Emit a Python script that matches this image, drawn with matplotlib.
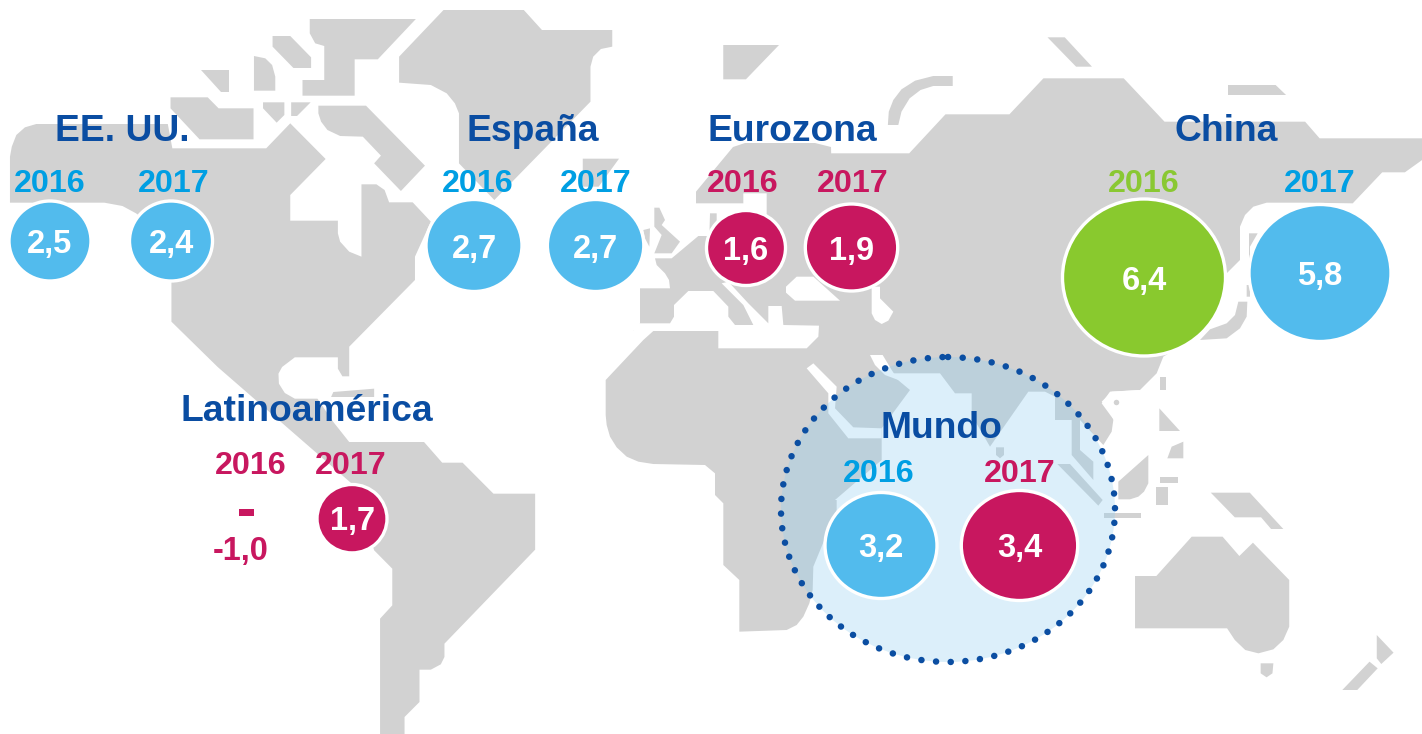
import matplotlib
matplotlib.use("Agg")
import matplotlib.pyplot as plt
from matplotlib.patches import Polygon, Ellipse, Rectangle

plt.rcParams['font.family'] = ['Liberation Sans', 'DejaVu Sans']

# ---- data ----
regions = ["EE. UU.", "España", "Eurozona", "China", "Latinoamérica", "Mundo"]
year_labels = ["2016", "2017"]
values_2016 = [2.5, 2.7, 1.6, 6.4, -1.0, 3.2]
values_2017 = [2.4, 2.7, 1.9, 5.8, 1.7, 3.4]

BLUE, MAG, GREEN = '#52bbed', '#c8175f', '#89c92e'
YBLUE, YGREEN = '#009fe3', '#8ac832'
HEAD = '#0a4da2'
GRAY = '#d2d2d2'
colors_2016 = [BLUE, BLUE, MAG, GREEN, None, BLUE]
colors_2017 = [BLUE, BLUE, MAG, BLUE, MAG, MAG]
ycolors_2016 = [YBLUE, YBLUE, MAG, YGREEN, MAG, YBLUE]
ycolors_2017 = [YBLUE, YBLUE, MAG, YBLUE, MAG, MAG]

# ---- layout (pixels) ----
head_pos = [(122, 141), (533, 141), (792, 141), (1226, 141), (307, 421), (941, 438)]
year16_pos = [(50, 192), (478, 192), (743, 192), (1144, 192), (250.6, 474), (878.5, 482)]
year17_pos = [(173.5, 192), (596, 192), (853, 192), (1320, 192), (351, 474), (1020, 482)]
# centre x, centre y, rx, ry, label baseline
bub16 = [(50, 241, 39.5, 38.5, 253), (474, 245.5, 46.5, 44.5, 258), (746, 248, 38, 36, 260),
         (1144, 277.5, 80, 77, 290), None, (881, 545.5, 54.5, 51.5, 557)]
bub17 = [(171, 241, 40, 38.5, 253), (595.6, 245.5, 46.7, 44.5, 258), (851.5, 247.5, 44.7, 42, 260),
         (1320, 273, 69.5, 67, 285), (352, 518.7, 33.5, 32.7, 530), (1019.5, 545.5, 56.7, 53.5, 557)]

# ---- map outline helpers (zoom-space to pixel-space) ----
def z1(p): return [(x / 2.205, y / 3) for x, y in p]
def z2(p): return [(711 + x / 2.205, y / 3) for x, y in p]
def z3(p): return [(x / 2.205, 367 + y / 3) for x, y in p]
def z4(p): return [(711 + x / 2.205, 340 + y / 3) for x, y in p]
def u5(p): return [(600 + x / 3, 170 + y / 3) for x, y in p]
def u6(p): return [(1050 + x / 3, 190 + y / 3) for x, y in p]
def u8(p): return [(590 + x / 3, 340 + y / 3) for x, y in p]
def u10(p): return [(1040 + x / 3, 360 + y / 3) for x, y in p]
def u11(p): return [(790 + x / 3, 350 + y / 3) for x, y in p]

america = (
    z1([(22, 608), (22, 470), (26, 440), (36, 405), (55, 382), (80, 372), (370, 372), (380, 445), (587, 445), (640, 370),
        (718, 477), (640, 585), (640, 662), (745, 662), (745, 700), (750, 725), (770, 755), (797, 770), (797, 553),
        (830, 553), (848, 570), (858, 607), (910, 607), (950, 665), (915, 770), (915, 840), (770, 1040), (770, 1101)])
    + z3([(770, 28), (755, 28), (745, 5)])
    + z1([(745, 1072), (650, 1072), (622, 1101)])
    + z3([(614, 20), (615, 50), (628, 78), (650, 95), (700, 95), (735, 165), (770, 225), (935, 225), (975, 287), (1020, 287),
          (1088, 380), (1180, 380), (1180, 548), (980, 830), (980, 870), (972, 892), (950, 908), (925, 908),
          (925, 1005), (892, 1050), (892, 1110), (838, 1110), (838, 755), (865, 715), (865, 605), (825, 550),
          (780, 355), (480, 0)])
    + z1([(378, 965), (378, 720), (300, 640), (270, 618), (230, 608)])
)

eurafrica = (
    u5([(120, 460), (120, 355), (210, 355), (207, 330), (195, 310), (170, 285), (165, 265), (215, 265), (295, 198), (328, 198),
        (330, 130), (350, 130), (350, 165), (495, 165), (500, 130), (500, 70), (430, 70), (430, 100), (288, 100), (288, 65)])
    + [(733, 147), (745, 143), (815, 143), (831, 147)]
    + z2([(265, 460), (437, 460), (517, 343), (658, 343), (733, 235), (910, 235), (1000, 365), (1310, 365),
          (1342, 415), (1568, 415), (1568, 480), (1530, 517), (1480, 517), (1415, 610)])
    + u6([(770, 38), (650, 38), (610, 50), (585, 75), (570, 110), (570, 210), (530, 250), (470, 420), (340, 500), (320, 550),
          (270, 600), (185, 605), (155, 635), (180, 660), (190, 690), (185, 725), (160, 765)])
    + u11([(870, 210), (870, 300), (910, 335), (910, 390), (845, 315), (845, 210), (795, 210), (795, 140), (765, 125),
           (715, 125), (600, 290), (545, 195), (545, 130), (495, 130), (450, 70), (300, 70), (360, 120), (275, 235),
           (275, 330), (135, 450)])
    + u8([(740, 480), (740, 510), (670, 680), (668, 750), (658, 790), (640, 830), (620, 855), (590, 870), (448, 875), (448, 720), (400, 675),
          (400, 490), (375, 465), (375, 400), (345, 375), (190, 372), (145, 365), (110, 350), (80, 322), (60, 290), (50, 255), (47, 225), (47, 120), (160, 0)])
    + u5([(160, 483), (100, 483)])
)

islands = [
    z1([(978, 30), (1155, 30), (1195, 90), (1350, 90), (1350, 140), (1325, 147), (1308, 170), (1302, 200), (1302, 305), (1090, 600),
        (1012, 490), (1012, 340), (1003, 310), (985, 280), (950, 255), (880, 248), (880, 170)]),
    z1([(683, 57), (917, 57), (833, 178), (782, 178), (782, 287), (667, 287), (667, 240), (715, 240), (715, 138), (695, 130), (683, 100)]),
    z1([(601, 108), (640, 108), (686, 172), (686, 204), (647, 204), (601, 140)]),
    z1([(560, 168), (585, 175), (600, 195), (607, 230), (607, 272), (560, 272)]),
    z1([(443, 210), (505, 210), (505, 275), (488, 275)]),
    z1([(376, 292), (458, 292), (482, 325), (559, 325), (559, 418), (440, 418), (376, 325)]),
    z1([(580, 307), (627, 307), (627, 345), (610, 368), (580, 325)]),
    z1([(642, 307), (685, 307), (655, 348), (642, 348)]),
    z1([(702, 317), (807, 317), (937, 497), (884, 573), (825, 490), (840, 467), (800, 410), (750, 408), (722, 390), (708, 365), (702, 340)]),
    z1([(1285, 476), (1365, 476), (1320, 560), (1285, 560)]),
    u5([(163, 113), (178, 113), (195, 150), (185, 165), (240, 215), (215, 250), (163, 250), (185, 195), (163, 170)]),
    u5([(130, 180), (150, 175), (148, 230), (135, 205)]),
    z2([(27, 135), (150, 135), (77, 238), (27, 238)]),
    z2([(390, 375), (392, 335), (402, 300), (420, 268), (450, 242), (490, 228), (533, 228), (533, 258), (490, 258),
        (462, 270), (438, 295), (420, 335), (413, 375)]),
    z2([(742, 112), (780, 112), (840, 200), (805, 200)]),
    z2([(1140, 255), (1245, 255), (1268, 285), (1140, 285)]),
    z3([(735, 75), (825, 65), (825, 90), (730, 90)]),
    u6([(597, 130), (623, 130), (600, 170), (600, 320), (590, 320), (590, 285), (597, 285)]),
    u6([(565, 335), (592, 335), (590, 380), (570, 415), (530, 445), (450, 450), (480, 418), (530, 400), (555, 375)]),
    u10([(325, 285), (325, 370), (312, 395), (295, 410), (270, 418), (235, 418), (235, 365)]),
    u10([(358, 145), (420, 213), (358, 213)]),
    u10([(360, 50), (378, 50), (378, 90), (360, 90)]),
    u10([(430, 245), (430, 295), (382, 295), (395, 260)]),
    u10([(360, 352), (413, 352), (413, 368), (360, 368)]),
    u10([(347, 380), (385, 380), (385, 435), (347, 435)]),
    u10([(192, 460), (302, 460), (302, 473), (192, 473)]),
    u10([(52, 312), (90, 312), (188, 420), (175, 437)]),
    z4([(1102, 458), (1188, 458), (1262, 567), (1235, 567), (1213, 532), (1155, 532)]),
    z4([(935, 708), (982, 708), (1060, 590), (1128, 590), (1165, 648), (1195, 608), (1275, 720), (1275, 860), (1262, 900), (1240, 928),
        (1207, 940), (1178, 930), (1155, 900), (1138, 865), (935, 865)]),
    z4([(1212, 970), (1240, 970), (1238, 1000), (1225, 1012), (1212, 1000)]),
    z4([(1468, 885), (1505, 938), (1478, 972), (1468, 955)]),
    z4([(1452, 965), (1470, 985), (1425, 1050), (1392, 1050)]),
    u11([(618, 292), (642, 292), (642, 315), (630, 325), (618, 315)]),
]

seas = [
    # Mediterranean, Adriatic
    u5([(100, 460), (210, 460), (222, 440), (222, 405), (265, 363), (340, 363), (385, 410), (385, 440), (405, 465),
        (460, 465), (430, 405), (365, 340), (385, 335), (445, 400), (505, 460), (505, 408), (545, 408), (550, 465),
        (657, 467), (655, 500), (620, 535), (355, 535), (355, 483), (100, 483)]),
    # Black Sea
    u5([(558, 350), (590, 320), (640, 320), (720, 392), (585, 392), (558, 368)]),
    # Caspian
    u5([(815, 350), (815, 430), (825, 450), (845, 462), (865, 452), (880, 425), (840, 385), (840, 350)]),
    # Red Sea and Gulf of Aden
    u11([(50, 55), (70, 40), (140, 110), (135, 175), (190, 232), (275, 235), (275, 265), (175, 265), (115, 190), (115, 130)]),
    # Persian Gulf
    u11([(240, 15), (278, 15), (305, 60), (325, 90), (285, 75), (255, 45)]),
    # Hainan side
    u10([(185, 130), (210, 95), (300, 90), (300, 150), (218, 175)]),
]

fig = plt.figure(figsize=(14.22, 7.34), dpi=100)
ax = fig.add_axes([0, 0, 1, 1])
ax.set_xlim(0, 1422)
ax.set_ylim(734, 0)
ax.axis('off')

for pts in [america, eurafrica] + islands:
    ax.add_patch(Polygon(pts, closed=True, fc=GRAY, ec='none', zorder=1))
for pts in seas:
    ax.add_patch(Polygon(pts, closed=True, fc='white', ec='none', zorder=2))
ax.add_patch(Ellipse((1116.5, 402.5), 5.5, 5.5, fc=GRAY, ec='none', zorder=3))

# Mundo halo
ax.add_patch(Ellipse((948, 509.5), 334, 305, fc=(142/255, 206/255, 242/255, 0.31), ec='none', zorder=4))
ax.add_patch(Ellipse((948, 509.5), 334, 305, fc='none', ec='#0b4ea2', lw=4.7,
                     linestyle=(0, (0.01, 2.24)), capstyle='round', zorder=5))

def fmt(v):
    return f"{v:.1f}".replace('.', ',')

def bubble(spec, color, value):
    cx, cy, rx, ry, base = spec
    ax.add_patch(Ellipse((cx, cy), 2 * rx + 3, 2 * ry + 3, fc=color, ec='white', lw=2.4, zorder=6))
    ax.text(cx, base, fmt(value), color='white', fontsize=23.5, fontweight='bold',
            ha='center', va='baseline', zorder=7)

for i, name in enumerate(regions):
    ax.text(*head_pos[i], name, color=HEAD, fontsize=26.8, fontweight='bold', ha='center', va='baseline', zorder=8)
    ax.text(*year16_pos[i], year_labels[0], color=ycolors_2016[i], fontsize=23.2, fontweight='bold',
            ha='center', va='baseline', zorder=8)
    ax.text(*year17_pos[i], year_labels[1], color=ycolors_2017[i], fontsize=23.2, fontweight='bold',
            ha='center', va='baseline', zorder=8)
    if bub16[i] is not None:
        bubble(bub16[i], colors_2016[i], values_2016[i])
    bubble(bub17[i], colors_2017[i], values_2017[i])

# negative 2016 value for Latinoamérica
ax.add_patch(Rectangle((239, 509), 15, 7, fc=MAG, ec='none', zorder=6))
ax.text(240.7, 559.7, fmt(values_2016[4]), color=MAG, fontsize=23.5, fontweight='bold',
        ha='center', va='baseline', zorder=8)

fig.savefig('out.png', dpi=100)
